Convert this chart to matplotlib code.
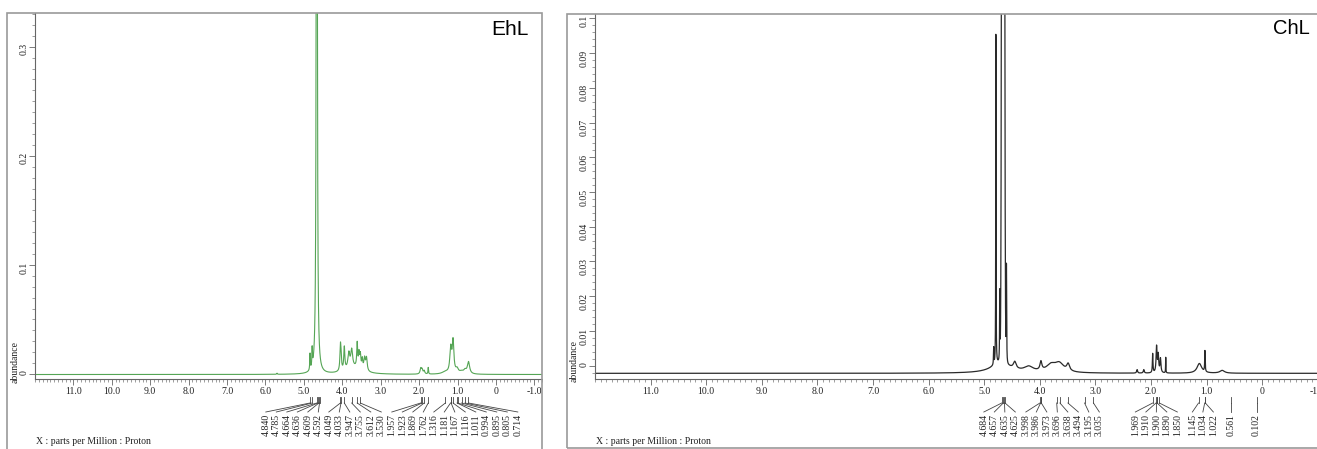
import numpy as np
import matplotlib.pyplot as plt
from matplotlib.lines import Line2D
from matplotlib.patches import Rectangle
from matplotlib.ticker import MultipleLocator, FixedLocator, FuncFormatter

plt.rcParams['axes.unicode_minus'] = False

W, H, DPI = 1317, 449, 100

# ---- EhL: picked peaks (ppm, height, half width) ----
ehl_ppm    = [4.840, 4.785, 4.664, 4.049, 4.033, 3.947, 3.830, 3.755, 3.612,
              3.565, 3.530, 3.480, 3.420, 3.370, 3.700,
              1.957, 1.923, 1.869, 1.762, 1.316, 1.181, 1.167, 1.116, 1.011,
              0.895, 0.805, 0.714, 5.700]
ehl_height = [0.015, 0.017, 2.000, 0.021, 0.011, 0.021, 0.014, 0.016, 0.022,
              0.013, 0.012, 0.009, 0.011, 0.012, 0.006,
              0.005, 0.004, 0.003, 0.006, 0.002, 0.016, 0.008, 0.029, 0.004,
              0.002, 0.003, 0.011, 0.001]
ehl_width  = [0.008, 0.008, 0.008, 0.015, 0.015, 0.016, 0.028, 0.028, 0.014,
              0.016, 0.016, 0.016, 0.022, 0.022, 0.250,
              0.020, 0.020, 0.020, 0.008, 0.100, 0.025, 0.025, 0.025, 0.040,
              0.060, 0.040, 0.035, 0.010]
ehl_base = -0.0005

ehl_labels = ["4.840", "4.785", "4.664", "4.636", "4.609", "4.592", "4.049",
              "4.033", "3.947", "3.755", "3.612", "3.530", "1.957", "1.923",
              "1.869", "1.762", "1.316", "1.181", "1.167", "1.116", "1.011",
              "0.994", "0.895", "0.805", "0.714"]

# ---- ChL ----
# solvent line (very tall, steep sided)
chl_solvent_ppm = 4.660
chl_solvent_height = 1.0
chl_solvent_sigma = 0.015

chl_ppm    = [4.830, 4.790, 4.720, 4.600, 4.700,
              4.450, 4.200, 3.980, 3.800, 3.650, 3.490,
              2.250, 2.130, 1.970, 1.900, 1.870, 1.830, 1.735,
              1.130, 1.030, 0.720]
chl_height = [0.005, 0.097, 0.021, 0.029, 0.003,
              0.002, 0.0015, 0.0025, 0.002, 0.0025, 0.002,
              0.001, 0.001, 0.0055, 0.0075, 0.005, 0.004, 0.0045,
              0.0028, 0.006, 0.0008]
chl_width  = [0.004, 0.003, 0.004, 0.004, 0.200,
              0.030, 0.100, 0.020, 0.100, 0.100, 0.030,
              0.010, 0.010, 0.006, 0.010, 0.010, 0.010, 0.003,
              0.050, 0.005, 0.050]
chl_base = -0.0022

chl_labels = ["4.684", "4.657", "4.635", "4.625", "3.998", "3.986", "3.973",
              "3.696", "3.638", "3.494", "3.195", "3.035", "1.969", "1.910",
              "1.900", "1.890", "1.850", "1.145", "1.034", "1.022", "0.561",
              "0.102"]

x_ticks = [11.0, 10.0, 9.0, 8.0, 7.0, 6.0, 5.0, 4.0, 3.0, 2.0, 1.0, 0.0, -1.0]

SERIF = 'Liberation Serif'
SANS = 'Liberation Sans'


def spectrum(x, ppm, height, width, base):
    y = np.full_like(x, base)
    for p, h, w in zip(ppm, height, width):
        y += h * w ** 2 / ((x - p) ** 2 + w ** 2)
    return y


fig = plt.figure(figsize=(W / DPI, H / DPI), dpi=DPI)
fig.patch.set_facecolor('white')


def px_axes(left, top, right, bottom):
    return fig.add_axes([left / W, 1 - bottom / H, (right - left) / W, (bottom - top) / H])


def fig_line(x0, y0, x1, y1, **kw):
    fig.add_artist(Line2D([x0 / W, x1 / W], [1 - y0 / H, 1 - y1 / H],
                          transform=fig.transFigure, **kw))


def xfmt(v, pos):
    return '0' if abs(v) < 1e-9 else f'{v:.1f}'


def yfmt(v, pos):
    return '0' if abs(v) < 1e-9 else f'{round(v, 4):g}'


def setup(ax, xlim, ylim, ymajor, yminor):
    ax.set_xlim(*xlim)
    ax.set_ylim(*ylim)
    ax.set_facecolor('none')
    for s in ['top', 'right']:
        ax.spines[s].set_visible(False)
    for s in ['left', 'bottom']:
        ax.spines[s].set_color('#666666')
        ax.spines[s].set_linewidth(0.8)
    ax.xaxis.set_major_locator(FixedLocator(x_ticks))
    ax.xaxis.set_minor_locator(MultipleLocator(0.1))
    ax.yaxis.set_major_locator(MultipleLocator(ymajor))
    ax.yaxis.set_minor_locator(MultipleLocator(yminor))
    ax.xaxis.set_major_formatter(FuncFormatter(xfmt))
    ax.yaxis.set_major_formatter(FuncFormatter(yfmt))
    ax.tick_params(which='major', length=4, width=0.6, color='#666666',
                   labelsize=7, pad=2, labelcolor='#222222')
    ax.tick_params(axis='y', pad=0.5)
    ax.tick_params(which='minor', length=2, width=0.5, color='#777777')
    ax.tick_params(axis='y', labelrotation=90)
    for lab in ax.get_xticklabels() + ax.get_yticklabels():
        lab.set_fontfamily(SERIF)


def ppm_to_px(ppm, left, right, xlim):
    return left + (xlim[0] - ppm) / (xlim[0] - xlim[1]) * (right - left)


def spread(targets, gap):
    # keep labels at least `gap` px apart, centred on their peaks
    clusters = [[t] for t in targets]
    merged = True
    while merged:
        merged = False
        for i in range(len(clusters) - 1):
            a, b = clusters[i], clusters[i + 1]
            sa = np.mean(a) - (len(a) - 1) * gap / 2
            sb = np.mean(b) - (len(b) - 1) * gap / 2
            if sa + len(a) * gap > sb:
                clusters[i] = a + b
                del clusters[i + 1]
                merged = True
                break
    out = []
    for c in clusters:
        s = np.mean(c) - (len(c) - 1) * gap / 2
        out += [s + k * gap for k in range(len(c))]
    return out


def peak_labels(labels, left, right, xlim):
    peaks = [ppm_to_px(float(t), left, right, xlim) for t in labels]
    spots = spread(peaks, 10.5)
    for p, s, t in zip(peaks, spots, labels):
        fig_line(p, 397, p, 403, lw=0.6, color='#444444')
        fig_line(p, 403, s, 412, lw=0.6, color='#444444')
        fig.text(s / W, 1 - 414 / H, t, rotation=90, ha='center', va='top',
                 fontsize=7, family=SERIF, color='#222222')


x = np.linspace(12.5, -1.5, 14000)

# ---- left panel: EhL ----
L1, R1, T1, B1 = 35, 542, 13.3, 379
xlim1 = (12.0, -1.2)
ax1 = px_axes(L1, T1, R1, B1)
ax1.plot(x, spectrum(x, ehl_ppm, ehl_height, ehl_width, ehl_base),
         color='#55a555', lw=0.8)
setup(ax1, xlim1, (-0.0046, 0.3306), 0.1, 0.01)
fig.text(15 / W, 1 - 362 / H, 'abundance', rotation=90, ha='center', va='center',
         fontsize=7, family=SERIF, color='#222222')
fig.text(36 / W, 1 - 441 / H, 'X : parts per Million : Proton', ha='left', va='center',
         fontsize=7, family=SERIF, color='#222222')
fig.text(529 / W, 1 - 29.5 / H, 'EhL', ha='right', va='center', fontsize=15,
         family=SANS, color='black')
peak_labels(ehl_labels, L1, R1, xlim1)

# ---- right panel: ChL ----
L2, T2, B2 = 595, 14, 379
xlim2 = (12.0, -1.2)
R2 = L2 + 55.6 * (xlim2[0] - xlim2[1])
ax2 = px_axes(L2, T2, R2, B2)
chl_y = spectrum(x, chl_ppm, chl_height, chl_width, chl_base)
chl_y += chl_solvent_height * np.exp(-(x - chl_solvent_ppm) ** 2 / (2 * chl_solvent_sigma ** 2))
ax2.plot(x, chl_y, color='#2a2a2a', lw=0.9)
setup(ax2, xlim2, (-0.00383, 0.10124), 0.01, 0.002)
fig.text(574 / W, 1 - 361 / H, 'abundance', rotation=90, ha='center', va='center',
         fontsize=7, family=SERIF, color='#222222')
fig.text(596 / W, 1 - 441 / H, 'X : parts per Million : Proton', ha='left', va='center',
         fontsize=7, family=SERIF, color='#222222')
fig.text(1310 / W, 1 - 28 / H, 'ChL', ha='right', va='center', fontsize=14.5,
         family=SANS, color='black')
peak_labels(chl_labels, L2, R2, xlim2)

# masks over the gap and the top margin, then the panel frames
fig.add_artist(Rectangle((542.5 / W, 0), 24 / W, 1, transform=fig.transFigure,
                         facecolor='white', edgecolor='none', zorder=20))
fig.add_artist(Rectangle((0, 1 - 13 / H), 1, 13 / H, transform=fig.transFigure,
                         facecolor='white', edgecolor='none', zorder=20))
fig.add_artist(Rectangle((7 / W, -0.05), (542 - 7) / W, 1.05 - 13.3 / H,
                         transform=fig.transFigure, facecolor='none',
                         edgecolor='#9a9a9a', lw=1.2, zorder=21))
fig.add_artist(Rectangle((567 / W, 1 - 448 / H), 0.6, (448 - 13.8) / H,
                         transform=fig.transFigure, facecolor='none',
                         edgecolor='#9a9a9a', lw=1.2, zorder=21))

fig.savefig('out.png', dpi=DPI)
